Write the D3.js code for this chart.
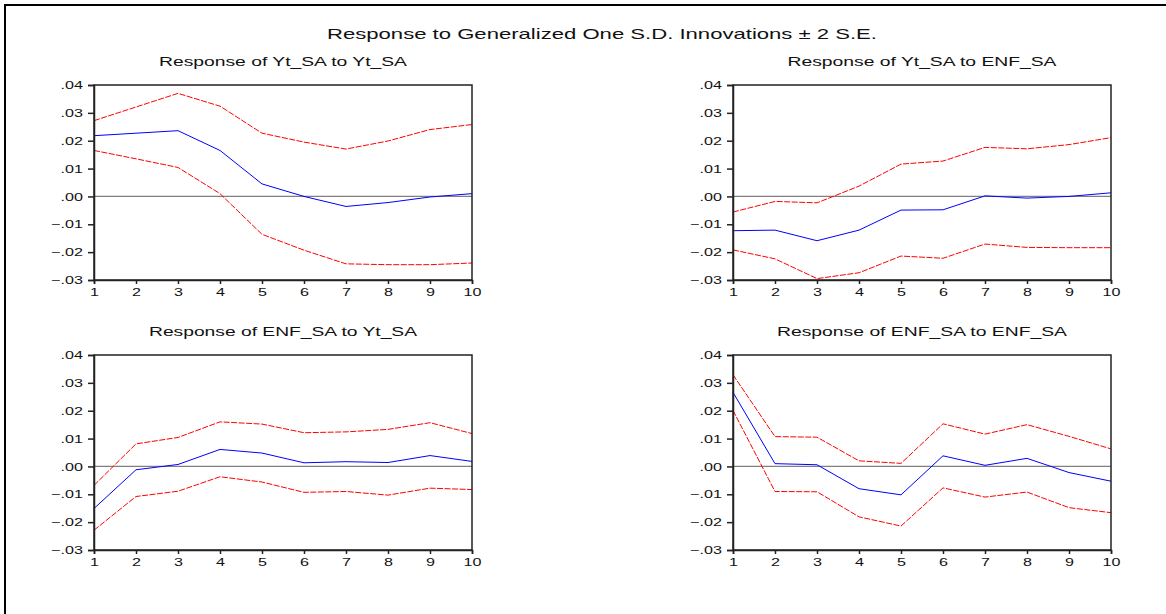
<!DOCTYPE html>
<html>
<head>
<meta charset="utf-8">
<script src="https://cdn.jsdelivr.net/npm/d3@7"></script>
<style>
  body { margin: 0; background: #fff; }
  svg { display: block; }
  text { font-family: "Liberation Sans", Arial, sans-serif; fill: #111; }
</style>
</head>
<body>
<div id="chart"></div>
<script>
// horizon (periods)
var periods = [1, 2, 3, 4, 5, 6, 7, 8, 9, 10];
var yTicks = [-0.03, -0.02, -0.01, 0.00, 0.01, 0.02, 0.03, 0.04];

// Response of Yt_SA to Yt_SA
var resp11 = [0.0218, 0.0227, 0.0236, 0.0165, 0.0045, 0.0000, -0.0036, -0.0022, -0.0002, 0.0010];
var upper11 = [0.0272, 0.0321, 0.0370, 0.0324, 0.0227, 0.0195, 0.0170, 0.0199, 0.0240, 0.0258];
var lower11 = [0.0165, 0.0135, 0.0104, 0.0010, -0.0136, -0.0193, -0.0242, -0.0245, -0.0245, -0.0239];

// Response of Yt_SA to ENF_SA
var resp12 = [-0.0123, -0.0121, -0.0159, -0.0121, -0.0049, -0.0048, 0.0002, -0.0006, 0.0000, 0.0013];
var upper12 = [-0.0056, -0.0018, -0.0023, 0.0037, 0.0116, 0.0127, 0.0176, 0.0171, 0.0186, 0.0211];
var lower12 = [-0.0192, -0.0224, -0.0295, -0.0274, -0.0214, -0.0222, -0.0171, -0.0183, -0.0184, -0.0184];

// Response of ENF_SA to Yt_SA
var resp21 = [-0.0151, -0.0012, 0.0007, 0.0061, 0.0048, 0.0013, 0.0017, 0.0014, 0.0039, 0.0018];
var upper21 = [-0.0068, 0.0081, 0.0104, 0.0160, 0.0152, 0.0121, 0.0124, 0.0133, 0.0157, 0.0118];
var lower21 = [-0.0229, -0.0108, -0.0089, -0.0037, -0.0056, -0.0093, -0.0090, -0.0103, -0.0078, -0.0083];

// Response of ENF_SA to ENF_SA
var resp22 = [0.0266, 0.0010, 0.0006, -0.0080, -0.0102, 0.0038, 0.0004, 0.0029, -0.0022, -0.0053];
var upper22 = [0.0329, 0.0107, 0.0105, 0.0020, 0.0011, 0.0153, 0.0116, 0.0150, 0.0108, 0.0063];
var lower22 = [0.0201, -0.0090, -0.0091, -0.0181, -0.0214, -0.0077, -0.0110, -0.0092, -0.0148, -0.0166];

var mainTitle = "Response to Generalized One S.D. Innovations \u00b1 2 S.E.";

var panels = [
  { title: "Response of Yt_SA to Yt_SA", resp: resp11, upper: upper11, lower: lower11,
    left: 94, top: 85, titleLen: 248 },
  { title: "Response of Yt_SA to ENF_SA", resp: resp12, upper: upper12, lower: lower12,
    left: 733, top: 85, titleLen: 269 },
  { title: "Response of ENF_SA to Yt_SA", resp: resp21, upper: upper21, lower: lower21,
    left: 94, top: 355, titleLen: 268 },
  { title: "Response of ENF_SA to ENF_SA", resp: resp22, upper: upper22, lower: lower22,
    left: 733, top: 355, titleLen: 290 }
];

var width = 1166, height = 614;
var plotW = 378, plotH = 195;
var stretch = 1.4; // the source picture is stretched sideways

var svg = d3.select("#chart").append("svg")
  .attr("width", width)
  .attr("height", height);

svg.append("rect")
  .attr("width", width).attr("height", height)
  .attr("fill", "#fff");

// outer frame (only left/top visible in the picture)
svg.append("rect")
  .attr("x", 5).attr("y", 5)
  .attr("width", width + 20).attr("height", height + 20)
  .attr("fill", "none")
  .attr("stroke", "#000")
  .attr("stroke-width", 2);

svg.append("text")
  .attr("x", 327).attr("y", 39)
  .attr("textLength", 550)
  .attr("lengthAdjust", "spacingAndGlyphs")
  .style("font-size", "14.5px")
  .text(mainTitle);

var fmt = function (d) { return d3.format(".2f")(d).replace("0.", "."); };

// widen tick labels the way the source is widened
function widen(sel) {
  sel.style("font-size", "11.5px")
    .attr("fill", "#111")
    .attr("font-family", "Liberation Sans, Arial, sans-serif")
    .each(function () {
      var len = this.getComputedTextLength();
      d3.select(this)
        .attr("textLength", len * stretch)
        .attr("lengthAdjust", "spacingAndGlyphs");
    });
}

panels.forEach(function (p) {
  var x = d3.scaleLinear().domain([1, 10]).range([0, plotW]);
  var y = d3.scaleLinear().domain([-0.03, 0.04]).range([plotH, 0]);

  var g = svg.append("g")
    .attr("transform", "translate(" + p.left + "," + p.top + ")");

  g.append("text")
    .attr("x", plotW / 2 - p.titleLen / 2)
    .attr("y", -19)
    .attr("textLength", p.titleLen)
    .attr("lengthAdjust", "spacingAndGlyphs")
    .style("font-size", "13px")
    .text(p.title);

  // zero line
  g.append("line")
    .attr("x1", 0).attr("x2", plotW)
    .attr("y1", y(0)).attr("y2", y(0))
    .attr("stroke", "#808080")
    .attr("stroke-width", 1.2);

  var line = d3.line()
    .x(function (d, i) { return x(periods[i]); })
    .y(function (d) { return y(d); });

  g.append("path").datum(p.upper)
    .attr("d", line)
    .attr("fill", "none")
    .attr("stroke", "#ff0000")
    .attr("stroke-width", 1)
    .attr("stroke-dasharray", "6,1.5");

  g.append("path").datum(p.lower)
    .attr("d", line)
    .attr("fill", "none")
    .attr("stroke", "#ff0000")
    .attr("stroke-width", 1)
    .attr("stroke-dasharray", "6,1.5");

  g.append("path").datum(p.resp)
    .attr("d", line)
    .attr("fill", "none")
    .attr("stroke", "#0000ff")
    .attr("stroke-width", 1);

  // box
  g.append("rect")
    .attr("width", plotW).attr("height", plotH)
    .attr("fill", "none")
    .attr("stroke", "#222")
    .attr("stroke-width", 1.5);

  // y axis
  var ya = g.append("g")
    .call(d3.axisLeft(y).tickValues(yTicks).tickFormat(fmt).tickSize(6).tickPadding(5));
  ya.select(".domain").attr("stroke", "#222").attr("stroke-width", 1.5);
  ya.selectAll(".tick line").attr("stroke", "#222").attr("stroke-width", 1.5);
  widen(ya.selectAll("text"));

  // x axis
  var xa = g.append("g")
    .attr("transform", "translate(0," + plotH + ")")
    .call(d3.axisBottom(x).tickValues(periods).tickFormat(d3.format("d")).tickSize(4).tickPadding(4));
  xa.select(".domain").attr("stroke", "#222").attr("stroke-width", 1.5);
  xa.selectAll(".tick line").attr("stroke", "#222").attr("stroke-width", 1.5);
  widen(xa.selectAll("text"));
});
</script>
</body>
</html>
